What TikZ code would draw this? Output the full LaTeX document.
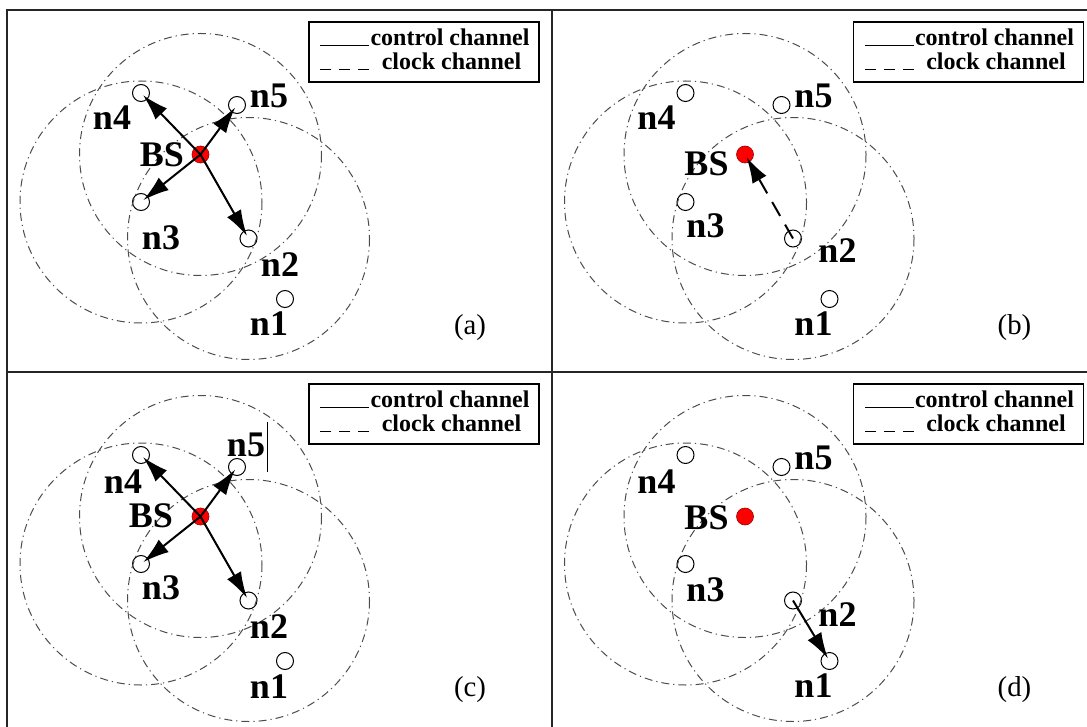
\documentclass[tikz,border=0pt]{standalone}
\usepackage{fontspec}
\setmainfont{Liberation Serif}
\usetikzlibrary{arrows.meta,positioning}

\begin{document}
\begin{tikzpicture}[x=0.5pt, y=-0.5pt,
    panelline/.style={line width=1pt, black!85},
    reach/.style={draw=black!70, line width=0.5pt, dash pattern=on 4pt off 2pt on 0.6pt off 2pt},
    sensor/.style={draw, circle, line width=0.5pt, minimum size=8.5pt, inner sep=0pt},
    bsdot/.style={circle, fill=red, draw=red!60!black, line width=0.3pt, minimum size=8.5pt, inner sep=0pt},
    lbl/.style={inner sep=0pt, font=\fontsize{18}{18}\selectfont\bfseries},
    subcap/.style={inner sep=0pt, font=\fontsize{14.4}{14.4}\selectfont},
    keybox/.style={draw, line width=0.8pt, minimum width=115pt, minimum height=30pt, inner sep=0pt},
    keytxt/.style={inner sep=0pt, font=\fontsize{12}{12}\selectfont\bfseries},
    keyline/.style={line width=0.6pt},
    arrow/.style={-{Latex[length=13pt,width=8pt]}, line width=1pt, shorten >=1.5pt},
]
\useasboundingbox (0,0) rectangle (1087,727);

% outer frame and panel dividers
\draw[panelline] (7,10) rectangle (1095,735);
\draw[panelline] (551.5,10) -- (551.5,735);
\draw[panelline] (7,372) -- (1095,372);

% the four panels share nodes, ranges and legend
\foreach \p/\dx/\dy in {a/0/0, b/544.5/0, c/0/362, d/544.5/362}{
  \begin{scope}[shift={(\dx,\dy)}]
    \node[bsdot] (bs\p) at (200.5,154.5) {};
    \node[sensor] (n4\p) at (141,93) {};
    \node[sensor] (n5\p) at (237,105) {};
    \node[sensor] (n3\p) at (141,202) {};
    \node[sensor] (n2\p) at (248.5,238.5) {};
    \node[sensor] (n1\p) at (285,299) {};
    \draw[reach] (bs\p.center) circle[radius=121];
    \draw[reach] (n3\p.center) circle[radius=121];
    \draw[reach] (n2\p.center) circle[radius=121];
    % legend
    \node[keybox] (key\p) at (424,52) {};
    \node[keytxt] (ctl\p) at (450,37.5) {control channel};
    \node[keytxt] (clk\p) at (451.5,61.5) {clock channel};
    \draw[keyline] ([xshift=-0.5pt]ctl\p.base west) -- ++(-49,0);
    \draw[keyline, dash pattern=on 5.5pt off 4pt] ([xshift=-6pt]clk\p.base west) -- ++(-50,0);
    \node[subcap] (cap\p) at (470,328) {(\p)};
  \end{scope}
}

% (a) BS sends control to its neighbours
\node[lbl] (t4a) at (112,118) {n4};
\node[lbl] (t5a) at (269,96) {n5};
\node[lbl] (tbsa) at (162,155) {BS};
\node[lbl] (t3a) at (161,238) {n3};
\node[lbl] (t2a) at (280,265) {n2};
\node[lbl] (t1a) at (269,324) {n1};
\draw[arrow] (bsa.center) -- (n4a.center);
\draw[arrow] (bsa.center) -- (n5a.center);
\draw[arrow] (bsa.center) -- (n3a.center);
\draw[arrow] (bsa.center) -- (n2a.center);

% (b) clock from n2 back to BS
\begin{scope}[shift={(544.5,0)}]
  \node[lbl] (t4b) at (112,118) {n4};
  \node[lbl] (t5b) at (269,96) {n5};
  \node[lbl] (tbsb) at (162,164) {BS};
  \node[lbl] (t3b) at (161,226) {n3};
  \node[lbl] (t2b) at (293,251) {n2};
  \node[lbl] (t1b) at (269,324) {n1};
\end{scope}
\draw[arrow, dash pattern=on 8pt off 5pt] (n2b.center) -- (bsb.center);

% (c)
\begin{scope}[shift={(0,362)}]
  \node[lbl] (t4c) at (123,120) {n4};
  \node[lbl] (t5c) at (246,83) {n5};
  \node[lbl] (tbsc) at (151,154) {BS};
  \node[lbl] (t3c) at (161,226) {n3};
  \node[lbl] (t2c) at (269,265) {n2};
  \node[lbl] (t1c) at (269,325) {n1};
\end{scope}
\draw[keyline] ([xshift=1pt]t5c.east) ++(0,-23) -- ++(0,50);
\draw[arrow] (bsc.center) -- (n4c.center);
\draw[arrow] (bsc.center) -- (n5c.center);
\draw[arrow] (bsc.center) -- (n3c.center);
\draw[arrow] (bsc.center) -- (n2c.center);

% (d) n2 passes control on to n1
\begin{scope}[shift={(544.5,362)}]
  \node[lbl] (t4d) at (112,120) {n4};
  \node[lbl] (t5d) at (269,96) {n5};
  \node[lbl] (tbsd) at (162,156) {BS};
  \node[lbl] (t3d) at (161,228) {n3};
  \node[lbl] (t2d) at (293,253) {n2};
  \node[lbl] (t1d) at (269,324) {n1};
\end{scope}
\draw[arrow] (n2d.center) -- (n1d.center);
\end{tikzpicture}
\end{document}
